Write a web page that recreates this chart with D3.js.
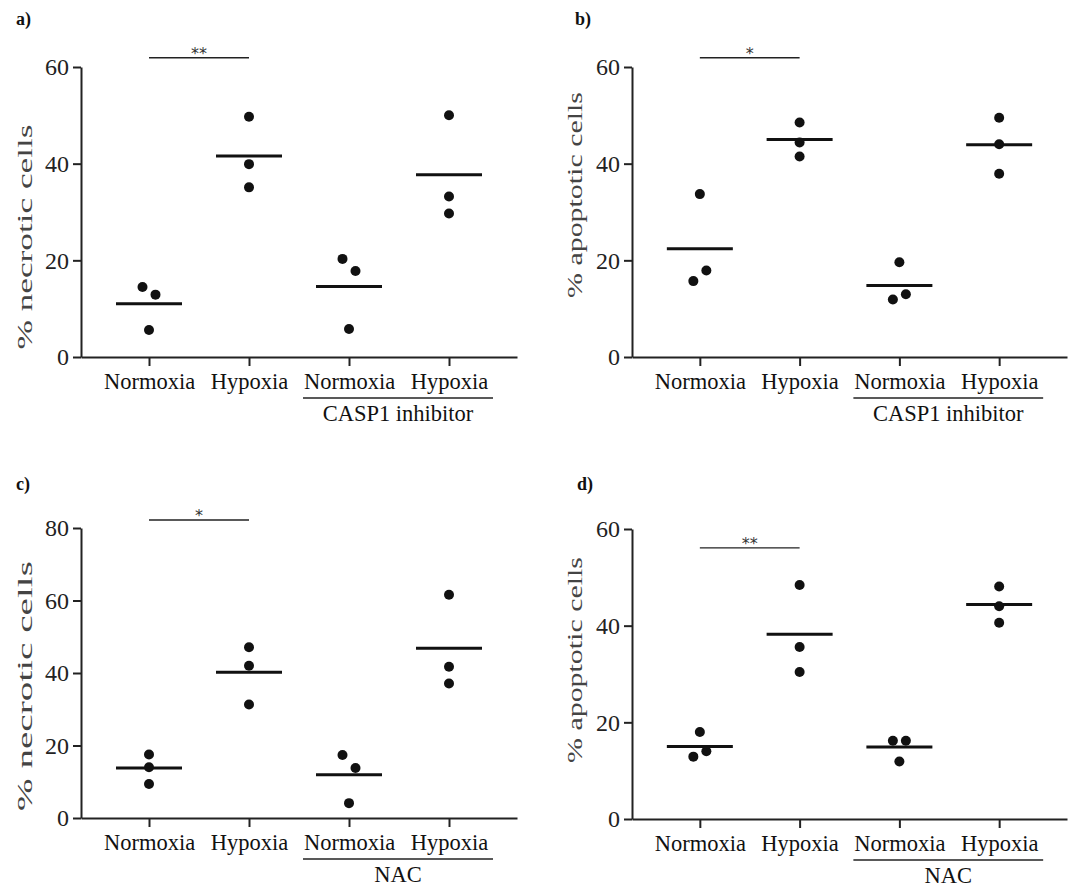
<!DOCTYPE html>
<html>
<head>
<meta charset="utf-8">
<script src="https://cdn.jsdelivr.net/npm/d3@7"></script>
<style>
  body { margin: 0; background: #fff; }
</style>
</head>
<body>
<div id="container"></div>
<script>
// ---- data ----
const groups = ["Normoxia", "Hypoxia", "Normoxia", "Hypoxia"];
const panelNames = ["a)", "b)", "c)", "d)"];
const yTitles = ["% necrotic cells", "% apoptotic cells", "% necrotic cells", "% apoptotic cells"];
const treatments = ["CASP1 inhibitor", "CASP1 inhibitor", "NAC", "NAC"];
const yMax = [60, 60, 80, 60];
const yTicks = [[0, 20, 40, 60], [0, 20, 40, 60], [0, 20, 40, 60, 80], [0, 20, 40, 60]];

const valuesA = [[14.5, 12.9, 5.6], [49.7, 39.9, 35.1], [20.3, 17.8, 5.8], [50.0, 33.2, 29.7]];
const valuesB = [[33.7, 17.9, 15.7], [48.5, 44.4, 41.5], [19.6, 13.0, 11.9], [49.5, 44.0, 37.9]];
const valuesC = [[17.5, 14.0, 9.4], [47.1, 42.0, 31.3], [17.4, 13.8, 4.1], [61.6, 41.7, 37.1]];
const valuesD = [[18.0, 14.0, 12.9], [48.4, 35.6, 30.4], [16.2, 16.2, 11.9], [48.1, 44.0, 40.6]];

const meansA = [11.0, 41.6, 14.6, 37.7];
const meansB = [22.4, 45.0, 14.8, 43.9];
const meansC = [13.8, 40.2, 11.9, 46.8];
const meansD = [15.0, 38.2, 14.9, 44.4];

const sigLabels = ["**", "*", "*", "**"];
const sigValues = [61.9, 61.9, 82.2, 56.1];

const allValues = [valuesA, valuesB, valuesC, valuesD];
const allMeans = [meansA, meansB, meansC, meansD];

// ---- layout ----
const width = 1073, height = 888;
const serif = "'Liberation Serif', 'DejaVu Serif', serif";
const panels = [
    { left: 81, right: 517, top: 67, bottom: 357, label: [16, 25], title: [24, 237, 225],
      jitter: [[-1, 1, 0], [0, 0, 0], [-1, 1, 0], [0, 0, 0]] },
    { left: 632, right: 1067, top: 67, bottom: 357, label: [575, 25], title: [574, 195, 206],
      jitter: [[0, 1, -1], [0, 0, 0], [0, 1, -1], [0, 0, 0]] },
    { left: 81, right: 517, top: 528, bottom: 818, label: [16, 490], title: [24, 686, 250],
      jitter: [[0, 0, 0], [0, 0, 0], [-1, 1, 0], [0, 0, 0]] },
    { left: 632, right: 1067, top: 529, bottom: 819, label: [577, 490], title: [574, 660, 206],
      jitter: [[0, 1, -1], [0, 0, 0], [-1, 1, 0], [0, 0, 0]] }
];
const jitterStep = 6.5;
const ink = "#111";

const svg = d3.select("#container").append("svg")
    .attr("width", width)
    .attr("height", height)
    .style("display", "block")
    .attr("font-family", serif);

panels.forEach((p, i) => {
    const g = svg.append("g");
    const keys = d3.range(groups.length);

    const x = d3.scalePoint().domain(keys).range([p.left, p.right]).padding(0.68);
    const y = d3.scaleLinear().domain([0, yMax[i]]).range([p.bottom, p.top]);

    // y axis
    const yAxis = g.append("g")
        .attr("transform", `translate(${p.left},0)`)
        .call(d3.axisLeft(y).tickValues(yTicks[i]).tickSize(8).tickSizeOuter(0).tickPadding(4));
    yAxis.selectAll("text").attr("font-size", 24).attr("fill", "#222");

    // x axis
    const xAxis = g.append("g")
        .attr("transform", `translate(0,${p.bottom})`)
        .call(d3.axisBottom(x).tickSize(9).tickSizeOuter(0).tickPadding(7).tickFormat(k => groups[k]));
    xAxis.selectAll("text").attr("font-size", 22.5).attr("fill", "#111");

    [yAxis, xAxis].forEach(a => {
        a.attr("font-family", serif);
        a.select(".domain").attr("stroke", "#222").attr("stroke-width", 2);
        a.selectAll(".tick line").attr("stroke", "#222").attr("stroke-width", 2);
    });

    // treatment bracket under the last two groups
    const x0 = x(2) - 46, x1 = x(3) + 44;
    g.append("line")
        .attr("x1", x0).attr("x2", x1)
        .attr("y1", p.bottom + 41).attr("y2", p.bottom + 41)
        .attr("stroke", "#222").attr("stroke-width", 1.6);
    g.append("text")
        .attr("x", (x0 + x1) / 2)
        .attr("y", p.bottom + 64)
        .attr("text-anchor", "middle")
        .attr("font-family", serif)
        .attr("font-size", 22.5)
        .attr("fill", "#111")
        .text(treatments[i]);

    // means
    g.selectAll(".mean")
        .data(allMeans[i])
        .join("line")
        .attr("class", "mean")
        .attr("x1", (d, k) => x(k) - 33)
        .attr("x2", (d, k) => x(k) + 33)
        .attr("y1", d => y(d))
        .attr("y2", d => y(d))
        .attr("stroke", ink)
        .attr("stroke-width", 3);

    // points
    const pts = allValues[i].flatMap((vals, k) => vals.map((v, j) => ({ k, v, off: p.jitter[k][j] })));
    g.selectAll(".dot")
        .data(pts)
        .join("circle")
        .attr("class", "dot")
        .attr("cx", d => x(d.k) + d.off * jitterStep)
        .attr("cy", d => y(d.v))
        .attr("r", 5)
        .attr("fill", ink);

    // significance bar
    const sy = y(sigValues[i]);
    g.append("line")
        .attr("x1", x(0)).attr("x2", x(1))
        .attr("y1", sy).attr("y2", sy)
        .attr("stroke", "#222").attr("stroke-width", 1.4);
    g.append("text")
        .attr("x", (x(0) + x(1)) / 2)
        .attr("y", sy + 1)
        .attr("text-anchor", "middle")
        .attr("font-family", "'DejaVu Sans', sans-serif")
        .attr("font-size", 16)
        .attr("fill", "#333")
        .text(sigLabels[i]);

    // y title
    g.append("text")
        .attr("transform", `translate(${p.title[0]},${p.title[1]}) rotate(-90)`)
        .attr("text-anchor", "middle")
        .attr("dy", "0.35em")
        .attr("font-family", serif)
        .attr("font-size", 22)
        .attr("fill", "#444")
        .attr("textLength", p.title[2])
        .attr("lengthAdjust", "spacingAndGlyphs")
        .text(yTitles[i]);

    // panel label
    g.append("text")
        .attr("x", p.label[0])
        .attr("y", p.label[1])
        .attr("font-family", serif)
        .attr("font-size", 18)
        .attr("font-weight", "bold")
        .attr("fill", "#111")
        .text(panelNames[i]);
});
</script>
</body>
</html>
